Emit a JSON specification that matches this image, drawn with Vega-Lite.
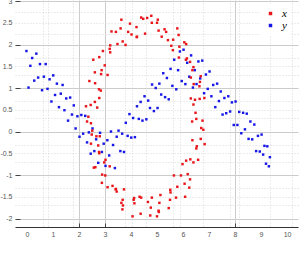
{
"$schema": "https://vega.github.io/schema/vega-lite/v6.json",
"width": 283, "height": 227,
"autosize": {"type": "none"},
"padding": {"left": 15, "top": 0, "right": 2, "bottom": 43},
"config": {"view": {"stroke": null}, "axis": {"labelFont": "Liberation Sans", "labelFontSize": 7, "labelColor": "#555"}},
"data": {"values": [
{"t":-0.02,"v":1.85,"s":"y"},{"t":0.06,"v":1.01,"s":"y"},{"t":0.13,"v":1.51,"s":"y"},{"t":0.2,"v":1.69,"s":"y"},{"t":0.28,"v":1.17,"s":"y"},{"t":0.36,"v":1.79,"s":"y"},{"t":0.43,"v":1.24,"s":"y"},
{"t":0.5,"v":1.55,"s":"y"},{"t":0.58,"v":0.95,"s":"y"},{"t":0.65,"v":1.26,"s":"y"},{"t":0.72,"v":1.55,"s":"y"},{"t":0.79,"v":0.98,"s":"y"},{"t":0.87,"v":1.2,"s":"y"},{"t":0.94,"v":0.69,"s":"y"},
{"t":1.01,"v":1.29,"s":"y"},{"t":1.08,"v":0.84,"s":"y"},{"t":1.15,"v":1.1,"s":"y"},{"t":1.23,"v":0.56,"s":"y"},{"t":1.3,"v":0.87,"s":"y"},{"t":1.37,"v":1.07,"s":"y"},{"t":1.44,"v":0.49,"s":"y"},
{"t":1.51,"v":0.76,"s":"y"},{"t":1.58,"v":0.25,"s":"y"},{"t":1.66,"v":0.78,"s":"y"},{"t":1.73,"v":0.39,"s":"y"},{"t":1.8,"v":0.6,"s":"y"},{"t":1.87,"v":0.07,"s":"y"},{"t":1.94,"v":0.35,"s":"y"},
{"t":2.02,"v":-0.12,"s":"y"},{"t":2.09,"v":0.38,"s":"y"},{"t":2.16,"v":-0.05,"s":"y"},{"t":2.24,"v":0.36,"s":"y"},{"t":2.31,"v":-0.25,"s":"y"},{"t":2.38,"v":-0.02,"s":"y"},{"t":2.45,"v":-0.51,"s":"y"},
{"t":2.52,"v":0.07,"s":"y"},{"t":2.59,"v":-0.45,"s":"y"},{"t":2.66,"v":-0.18,"s":"y"},{"t":2.74,"v":-0.72,"s":"y"},{"t":2.81,"v":-0.03,"s":"y"},{"t":2.88,"v":-0.47,"s":"y"},{"t":2.95,"v":-0.28,"s":"y"},
{"t":3.02,"v":-0.79,"s":"y"},{"t":3.09,"v":-0.2,"s":"y"},{"t":3.16,"v":-0.55,"s":"y"},{"t":3.23,"v":0,"s":"y"},{"t":3.31,"v":-0.31,"s":"y"},{"t":3.38,"v":-0.84,"s":"y"},{"t":3.45,"v":-0.12,"s":"y"},
{"t":3.52,"v":0.02,"s":"y"},{"t":3.59,"v":-0.45,"s":"y"},{"t":3.66,"v":-0.05,"s":"y"},{"t":3.73,"v":-0.47,"s":"y"},{"t":3.8,"v":0.2,"s":"y"},{"t":3.87,"v":-0.1,"s":"y"},{"t":3.94,"v":0.4,"s":"y"},
{"t":4.01,"v":-0.14,"s":"y"},{"t":4.08,"v":0.31,"s":"y"},{"t":4.15,"v":-0.13,"s":"y"},{"t":4.23,"v":0.58,"s":"y"},{"t":4.3,"v":0.29,"s":"y"},{"t":4.37,"v":0.68,"s":"y"},{"t":4.44,"v":0.25,"s":"y"},
{"t":4.52,"v":0.81,"s":"y"},{"t":4.59,"v":0.28,"s":"y"},{"t":4.66,"v":0.71,"s":"y"},{"t":4.73,"v":0.54,"s":"y"},{"t":4.81,"v":1.08,"s":"y"},{"t":4.88,"v":0.47,"s":"y"},{"t":4.95,"v":1.0,"s":"y"},
{"t":5.02,"v":0.54,"s":"y"},{"t":5.09,"v":1.1,"s":"y"},{"t":5.16,"v":0.85,"s":"y"},{"t":5.24,"v":1.34,"s":"y"},{"t":5.31,"v":0.79,"s":"y"},{"t":5.38,"v":1.23,"s":"y"},{"t":5.45,"v":0.74,"s":"y"},
{"t":5.52,"v":1.44,"s":"y"},{"t":5.59,"v":1.05,"s":"y"},{"t":5.66,"v":1.65,"s":"y"},{"t":5.74,"v":0.97,"s":"y"},{"t":5.81,"v":1.41,"s":"y"},{"t":5.88,"v":1.84,"s":"y"},{"t":5.95,"v":1.16,"s":"y"},
{"t":6.02,"v":1.88,"s":"y"},{"t":6.09,"v":1.09,"s":"y"},{"t":6.16,"v":1.58,"s":"y"},{"t":6.24,"v":1.26,"s":"y"},{"t":6.31,"v":1.75,"s":"y"},{"t":6.38,"v":1.01,"s":"y"},{"t":6.45,"v":1.41,"s":"y"},
{"t":6.52,"v":1.09,"s":"y"},{"t":6.59,"v":1.61,"s":"y"},{"t":6.66,"v":1.22,"s":"y"},{"t":6.74,"v":1.63,"s":"y"},{"t":6.81,"v":0.88,"s":"y"},{"t":6.88,"v":1.31,"s":"y"},{"t":6.95,"v":0.98,"s":"y"},
{"t":7.02,"v":1.38,"s":"y"},{"t":7.09,"v":0.81,"s":"y"},{"t":7.16,"v":1.07,"s":"y"},{"t":7.24,"v":0.56,"s":"y"},{"t":7.31,"v":1.1,"s":"y"},{"t":7.38,"v":0.7,"s":"y"},{"t":7.45,"v":0.92,"s":"y"},
{"t":7.52,"v":0.39,"s":"y"},{"t":7.59,"v":0.77,"s":"y"},{"t":7.66,"v":0.42,"s":"y"},{"t":7.74,"v":0.81,"s":"y"},{"t":7.81,"v":0.46,"s":"y"},{"t":7.88,"v":0.67,"s":"y"},{"t":7.95,"v":0.15,"s":"y"},
{"t":8.02,"v":0.69,"s":"y"},{"t":8.09,"v":0.15,"s":"y"},{"t":8.16,"v":0.45,"s":"y"},{"t":8.24,"v":-0.04,"s":"y"},{"t":8.31,"v":0.43,"s":"y"},{"t":8.38,"v":0.05,"s":"y"},{"t":8.45,"v":0.41,"s":"y"},
{"t":8.52,"v":-0.17,"s":"y"},{"t":8.59,"v":0.23,"s":"y"},{"t":8.66,"v":-0.18,"s":"y"},{"t":8.74,"v":0.16,"s":"y"},{"t":8.81,"v":-0.45,"s":"y"},{"t":8.88,"v":-0.1,"s":"y"},{"t":8.95,"v":-0.46,"s":"y"},
{"t":9.02,"v":-0.07,"s":"y"},{"t":9.08,"v":-0.53,"s":"y"},{"t":9.13,"v":-0.33,"s":"y"},{"t":9.19,"v":-0.74,"s":"y"},{"t":9.24,"v":-0.34,"s":"y"},{"t":9.3,"v":-0.8,"s":"y"},{"t":9.34,"v":-0.59,"s":"y"},
{"t":6.75,"v":0.25,"s":"x"},{"t":6.40,"v":0.62,"s":"x"},{"t":6.64,"v":0.75,"s":"x"},{"t":6.48,"v":0.43,"s":"x"},{"t":6.82,"v":0.77,"s":"x"},{"t":6.30,"v":0.76,"s":"x"},{"t":6.63,"v":1.04,"s":"x"},{"t":6.46,"v":0.73,"s":"x"},
{"t":6.68,"v":1.27,"s":"x"},{"t":6.30,"v":1.24,"s":"x"},{"t":6.41,"v":1.09,"s":"x"},{"t":6.65,"v":1.14,"s":"x"},{"t":6.11,"v":1.65,"s":"x"},{"t":6.40,"v":1.48,"s":"x"},{"t":6.15,"v":1.68,"s":"x"},{"t":6.36,"v":1.41,"s":"x"},
{"t":6.27,"v":1.60,"s":"x"},{"t":5.86,"v":1.95,"s":"x"},{"t":6.05,"v":2.05,"s":"x"},{"t":5.84,"v":1.70,"s":"x"},{"t":6.12,"v":2.01,"s":"x"},{"t":5.55,"v":1.97,"s":"x"},{"t":5.83,"v":2.22,"s":"x"},{"t":5.61,"v":1.87,"s":"x"},
{"t":5.78,"v":2.37,"s":"x"},{"t":5.35,"v":2.29,"s":"x"},{"t":5.42,"v":2.10,"s":"x"},{"t":5.62,"v":2.11,"s":"x"},{"t":5.03,"v":2.57,"s":"x"},{"t":5.29,"v":2.35,"s":"x"},{"t":5.00,"v":2.50,"s":"x"},{"t":5.18,"v":2.18,"s":"x"},
{"t":5.06,"v":2.32,"s":"x"},{"t":4.62,"v":2.61,"s":"x"},{"t":4.78,"v":2.66,"s":"x"},{"t":4.54,"v":2.25,"s":"x"},{"t":4.80,"v":2.50,"s":"x"},{"t":4.21,"v":2.40,"s":"x"},{"t":4.47,"v":2.59,"s":"x"},{"t":4.23,"v":2.18,"s":"x"},
{"t":4.39,"v":2.62,"s":"x"},{"t":3.96,"v":2.48,"s":"x"},{"t":4.02,"v":2.23,"s":"x"},{"t":4.22,"v":2.17,"s":"x"},{"t":3.63,"v":2.57,"s":"x"},{"t":3.89,"v":2.29,"s":"x"},{"t":3.60,"v":2.37,"s":"x"},{"t":3.79,"v":1.99,"s":"x"},
{"t":3.68,"v":2.07,"s":"x"},{"t":3.25,"v":2.30,"s":"x"},{"t":3.42,"v":2.29,"s":"x"},{"t":3.20,"v":1.82,"s":"x"},{"t":3.48,"v":2.01,"s":"x"},{"t":2.92,"v":1.85,"s":"x"},{"t":3.20,"v":1.98,"s":"x"},{"t":2.99,"v":1.52,"s":"x"},
{"t":3.18,"v":1.90,"s":"x"},{"t":2.78,"v":1.71,"s":"x"},{"t":2.87,"v":1.41,"s":"x"},{"t":3.10,"v":1.30,"s":"x"},{"t":2.55,"v":1.65,"s":"x"},{"t":2.85,"v":1.32,"s":"x"},{"t":2.61,"v":1.36,"s":"x"},{"t":2.84,"v":0.94,"s":"x"},
{"t":2.77,"v":0.97,"s":"x"},{"t":2.40,"v":1.16,"s":"x"},{"t":2.62,"v":1.11,"s":"x"},{"t":2.45,"v":0.61,"s":"x"},{"t":2.78,"v":0.77,"s":"x"},{"t":2.27,"v":0.58,"s":"x"},{"t":2.61,"v":0.68,"s":"x"},{"t":2.46,"v":0.19,"s":"x"},
{"t":2.70,"v":0.55,"s":"x"},{"t":2.36,"v":0.34,"s":"x"},{"t":2.51,"v":0.02,"s":"x"},{"t":2.80,"v":-0.11,"s":"x"},{"t":2.31,"v":0.23,"s":"x"},{"t":2.67,"v":-0.11,"s":"x"},{"t":2.49,"v":-0.07,"s":"x"},{"t":2.78,"v":-0.50,"s":"x"},
{"t":2.77,"v":-0.47,"s":"x"},{"t":2.46,"v":-0.28,"s":"x"},{"t":2.74,"v":-0.32,"s":"x"},{"t":2.63,"v":-0.82,"s":"x"},{"t":3.02,"v":-0.65,"s":"x"},{"t":2.57,"v":-0.83,"s":"x"},{"t":2.97,"v":-0.71,"s":"x"},{"t":2.88,"v":-1.18,"s":"x"},
{"t":3.18,"v":-0.80,"s":"x"},{"t":2.89,"v":-0.99,"s":"x"},{"t":3.10,"v":-1.28,"s":"x"},{"t":3.45,"v":-1.38,"s":"x"},{"t":3.01,"v":-1.01,"s":"x"},{"t":3.42,"v":-1.32,"s":"x"},{"t":3.29,"v":-1.25,"s":"x"},{"t":3.63,"v":-1.64,"s":"x"},
{"t":3.68,"v":-1.57,"s":"x"},{"t":3.41,"v":-1.33,"s":"x"},{"t":3.73,"v":-1.33,"s":"x"},{"t":3.67,"v":-1.79,"s":"x"},{"t":4.10,"v":-1.57,"s":"x"},{"t":3.69,"v":-1.70,"s":"x"},{"t":4.12,"v":-1.53,"s":"x"},{"t":4.06,"v":-1.95,"s":"x"},
{"t":4.39,"v":-1.52,"s":"x"},{"t":4.13,"v":-1.65,"s":"x"},{"t":4.37,"v":-1.89,"s":"x"},{"t":4.74,"v":-1.93,"s":"x"},{"t":4.33,"v":-1.50,"s":"x"},{"t":4.76,"v":-1.75,"s":"x"},{"t":4.65,"v":-1.62,"s":"x"},{"t":5.00,"v":-1.95,"s":"x"},
{"t":5.06,"v":-1.82,"s":"x"},{"t":4.80,"v":-1.52,"s":"x"},{"t":5.13,"v":-1.46,"s":"x"},{"t":5.07,"v":-1.85,"s":"x"},{"t":5.50,"v":-1.57,"s":"x"},{"t":5.09,"v":-1.64,"s":"x"},{"t":5.52,"v":-1.40,"s":"x"},{"t":5.45,"v":-1.76,"s":"x"},
{"t":5.78,"v":-1.27,"s":"x"},{"t":5.51,"v":-1.34,"s":"x"},{"t":5.73,"v":-1.52,"s":"x"},{"t":6.08,"v":-1.50,"s":"x"},{"t":5.65,"v":-1.01,"s":"x"},{"t":6.06,"v":-1.20,"s":"x"},{"t":5.92,"v":-1.01,"s":"x"},{"t":6.24,"v":-1.29,"s":"x"},
{"t":6.27,"v":-1.10,"s":"x"},{"t":5.98,"v":-0.75,"s":"x"},{"t":6.28,"v":-0.64,"s":"x"},{"t":6.18,"v":-0.98,"s":"x"},{"t":6.58,"v":-0.65,"s":"x"},{"t":6.12,"v":-0.67,"s":"x"},{"t":6.51,"v":-0.39,"s":"x"},{"t":6.40,"v":-0.71,"s":"x"},
{"t":6.68,"v":-0.17,"s":"x"},{"t":6.36,"v":-0.20,"s":"x"},{"t":6.53,"v":-0.34,"s":"x"},{"t":6.83,"v":-0.29,"s":"x"},{"t":6.35,"v":0.23,"s":"x"},{"t":6.70,"v":0.08,"s":"x"},{"t":6.51,"v":0.29,"s":"x"},{"t":6.78,"v":0.04,"s":"x"}
]},
"mark": {"type": "square", "size": 6, "opacity": 1},
"encoding": {
"x": {"field": "t", "type": "quantitative",
 "scale": {"domain": [-0.46, 10.42], "nice": false, "zero": false},
 "axis": {"title": null,
  "values": [0,0.62,0.81,1,1.77,2,3,3.77,4,4.04,4.58,5,5.6,5.9,6,6.77,7,7.8,8,8.15,9,9.35,10,10.2],
  "labelExpr": "datum.value % 1 == 0 ? '' + datum.value : ''",
  "labelOverlap": false,
  "grid": true,
  "gridColor": {"condition": {"test": "datum.value==2||datum.value==3||datum.value==8", "value": "#cccccc"}, "value": "#d9d9d9"},
  "gridDash": {"condition": {"test": "datum.value==2||datum.value==3||datum.value==8", "value": []}, "value": [1, 2]},
  "gridOpacity": {"condition": {"test": "datum.value % 1 == 0 && !(datum.value==2||datum.value==3||datum.value==8)", "value": 0}, "value": 1},
  "ticks": true, "tickSize": -4, "tickColor": "#444",
  "tickOpacity": {"condition": {"test": "datum.value==2||datum.value==3||datum.value==8", "value": 1}, "value": 0},
  "domain": true, "domainColor": "#333", "labelPadding": 7}},
"y": {"field": "v", "type": "quantitative",
 "scale": {"domain": [-2.195, 3.023], "nice": false, "zero": false},
 "axis": {"title": null,
  "values": [-2,-1.7,-1.5,-1.3,-1,-0.7,-0.5,-0.3,0,0.3,0.5,0.7,1,1.3,1.5,1.7,2,2.25,2.5,2.75,3],
  "labelExpr": "(datum.value * 2) % 1 == 0 ? '' + datum.value : ''",
  "labelOverlap": false,
  "grid": true,
  "gridColor": {"condition": {"test": "datum.value % 1 == 0", "value": "#cccccc"}, "value": "#d9d9d9"},
  "gridDash": {"condition": {"test": "datum.value % 1 == 0", "value": []}, "value": [1, 2]},
  "ticks": true, "tickSize": -5, "tickColor": "#444",
  "tickOpacity": {"condition": {"test": "datum.value % 1 == 0", "value": 1}, "value": 0},
  "domain": false, "labelPadding": 8}},
"color": {"field": "s", "type": "nominal",
 "scale": {"domain": ["x", "y"], "range": ["#e8161b", "#1717e6"]},
 "legend": {"title": null, "orient": "none", "legendX": 246, "legendY": 4, "fillColor": "white", "padding": 4,
  "symbolType": "square", "symbolSize": 12, "symbolStrokeWidth": 0, "rowPadding": 0,
  "labelFont": "Liberation Serif", "labelFontStyle": "italic", "labelFontSize": 11, "labelColor": "#000", "labelOffset": 6}}
}
}
